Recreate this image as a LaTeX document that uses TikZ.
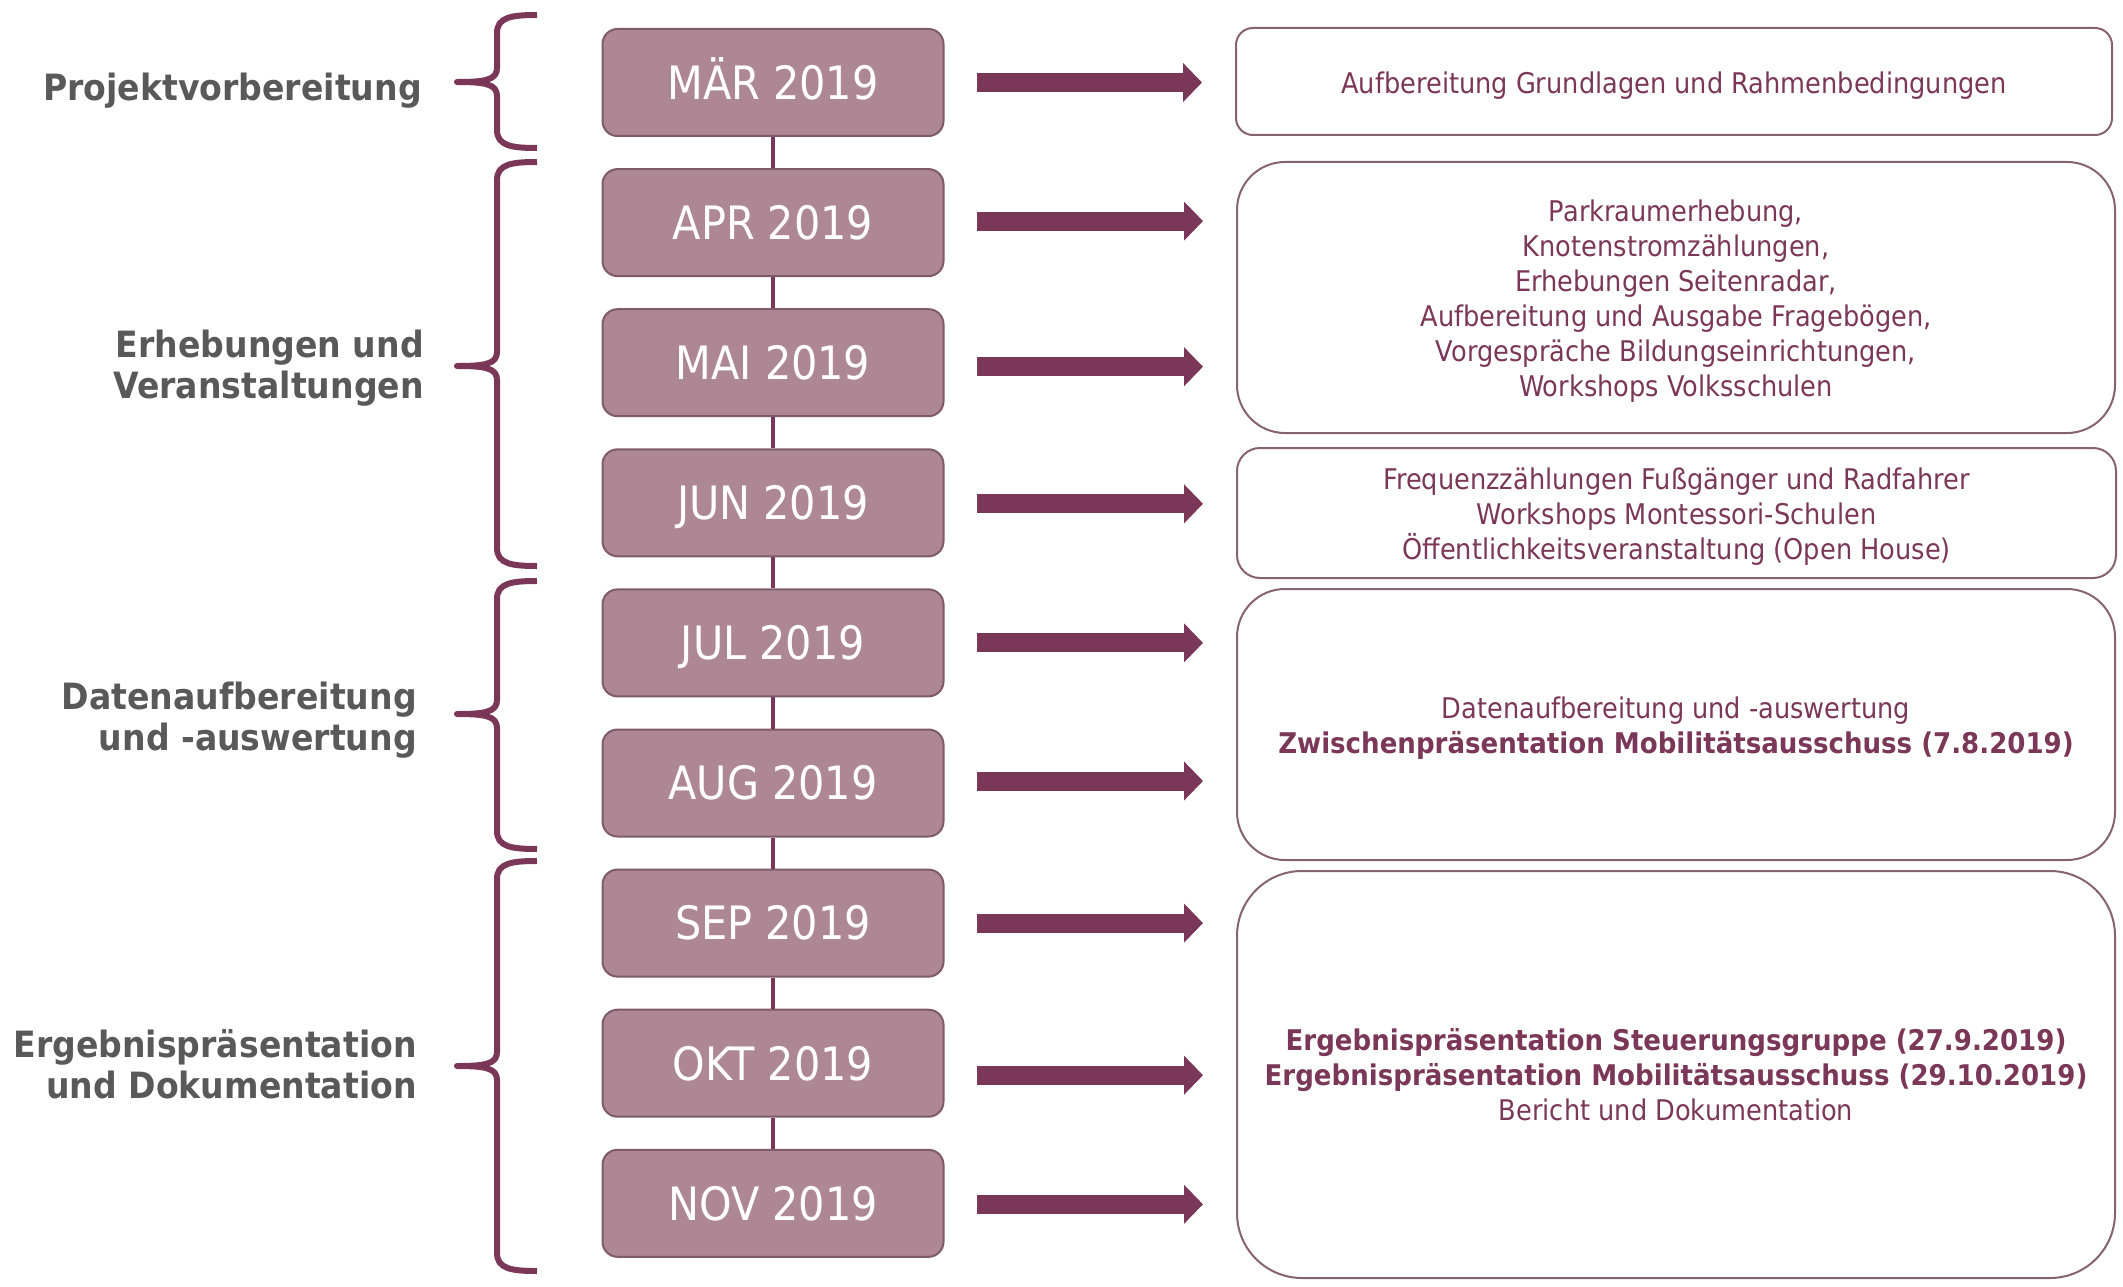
\documentclass[tikz,border=0pt]{standalone}
\usepackage{fontspec}
\setmainfont{DejaVu Sans}[FakeStretch=0.9, BoldFeatures={FakeStretch=0.915}]
\usetikzlibrary{arrows.meta,calc}
\definecolor{plum}{HTML}{7B3757}
\definecolor{boxfill}{HTML}{AE8795}
\definecolor{boxedge}{HTML}{7E5A6A}
\definecolor{infoedge}{HTML}{86636F}
\definecolor{labelgray}{HTML}{595959}
\tikzset{
  datebox/.style={draw=boxedge, line width=2pt, fill=boxfill, rounded corners=15pt,
    minimum width=341pt, minimum height=107pt, inner sep=0pt, text=white,
    text height=33.6pt, text depth=0pt,
    font=\fontsize{46}{55}\selectfont},
  infobox/.style={draw=infoedge, line width=2pt, inner sep=0pt},
  infotext/.style={align=center, text=plum, inner sep=0pt,
    font=\fontsize{28.5}{35}\selectfont},
  phaselabel/.style={anchor=east, align=right, text=labelgray, inner sep=0pt,
    font=\bfseries\fontsize{36.2}{41}\selectfont},
  conn/.style={draw=plum, line width=4pt},
  blockarrow/.style={draw=plum, line width=19pt, -{Triangle[length=19pt,width=38pt]}},
  bracestyle/.style={draw=plum, line width=6pt, line join=round}
}
\newcommand\phasebrace[3]{%
  \draw[bracestyle] (537,#1) .. controls (512,#1) and (497,#1+2) .. (497,#1+18)
    -- (497,#2-14) .. controls (497,#2-2) and (485,#2) .. (457,#2)
    .. controls (485,#2) and (497,#2+2) .. (497,#2+14)
    -- (497,#3-18) .. controls (497,#3-2) and (512,#3) .. (537,#3);}
\begin{document}
\begin{tikzpicture}[x=1pt,y=-1pt]
\useasboundingbox (0,0) rectangle (2123,1287);

% date boxes
\node[datebox] (m1) at (773,82.5) {MÄR 2019};
\node[datebox] (m2) at (773,222.6) {APR 2019};
\node[datebox] (m3) at (773,362.7) {MAI 2019};
\node[datebox] (m4) at (773,502.8) {JUN 2019};
\node[datebox] (m5) at (773,642.9) {JUL 2019};
\node[datebox] (m6) at (773,783) {AUG 2019};
\node[datebox] (m7) at (773,923.1) {SEP 2019};
\node[datebox] (m8) at (773,1063.2) {OKT 2019};
\node[datebox] (m9) at (773,1203.3) {NOV 2019};

\foreach \a/\b in {m1/m2,m2/m3,m3/m4,m4/m5,m5/m6,m6/m7,m7/m8,m8/m9}
  \draw[conn] (\a.south) -- (\b.north);

% info boxes
\node[infobox, rounded corners=17pt, minimum width=876pt, minimum height=107pt] (r1) at (1674,81.5) {};
\node[infobox, rounded corners=48pt, minimum width=878pt, minimum height=271pt] (r2) at (1676,297.5) {};
\node[infobox, rounded corners=23pt, minimum width=879pt, minimum height=130pt] (r3) at (1676.5,513) {};
\node[infobox, rounded corners=48pt, minimum width=878pt, minimum height=271pt] (r4) at (1676,724.5) {};
\node[infobox, rounded corners=65pt, minimum width=878pt, minimum height=407pt] (r5) at (1676,1074.5) {};

\node[infotext] (t1) at ($(r1.center)+(0,4)$)
  {Aufbereitung Grundlagen und Rahmenbedingungen};
\node[infotext] (t2) at ($(r2.center)+(0,4)$)
  {Parkraumerhebung,\\Knotenstromzählungen,\\Erhebungen Seitenradar,\\Aufbereitung und Ausgabe Fragebögen,\\Vorgespräche Bildungseinrichtungen,\\Workshops Volksschulen};
\node[infotext] (t3) at ($(r3.center)+(0,4)$)
  {Frequenzzählungen Fußgänger und Radfahrer\\Workshops Montessori-Schulen\\Öffentlichkeitsveranstaltung (Open House)};
\node[infotext] (t4) at ($(r4.center)+(0,4)$)
  {Datenaufbereitung und -auswertung\\\textbf{Zwischenpräsentation Mobilitätsausschuss (7.8.2019)}};
\node[infotext] (t5) at (r5.center)
  {\textbf{Ergebnispräsentation Steuerungsgruppe (27.9.2019)}\\\textbf{Ergebnispräsentation Mobilitätsausschuss (29.10.2019)}\\Bericht und Dokumentation};

% arrows
\draw[blockarrow] ($(m1.east)+(32,0)$) -- ($(m1.east -| r1.west)+(-33,0)$);
\draw[blockarrow] ($(m2.east)+(32,-1.5)$) -- ($(m2.east -| r2.west)+(-33,-1.5)$);
\draw[blockarrow] ($(m3.east)+(32,4)$) -- ($(m3.east -| r2.west)+(-33,4)$);
\draw[blockarrow] ($(m4.east)+(32,1)$) -- ($(m4.east -| r3.west)+(-33,1)$);
\draw[blockarrow] ($(m5.east)+(32,0)$) -- ($(m5.east -| r4.west)+(-33,0)$);
\draw[blockarrow] ($(m6.east)+(32,-2)$) -- ($(m6.east -| r4.west)+(-33,-2)$);
\draw[blockarrow] ($(m7.east)+(32,0)$) -- ($(m7.east -| r5.west)+(-33,0)$);
\draw[blockarrow] ($(m8.east)+(32,12)$) -- ($(m8.east -| r5.west)+(-33,12)$);
\draw[blockarrow] ($(m9.east)+(32,1)$) -- ($(m9.east -| r5.west)+(-33,1)$);

% braces
\phasebrace{15}{82}{148}
\phasebrace{162}{366}{566}
\phasebrace{581}{714}{849}
\phasebrace{861}{1066}{1271}

% phase labels
\node[phaselabel] (p1) at (422,91) {Projektvorbereitung};
\node[phaselabel] (p2) at (424,368) {Erhebungen und\\Veranstaltungen};
\node[phaselabel] (p3) at (417,720) {Datenaufbereitung\\und -auswertung};
\node[phaselabel] (p4) at (417,1064) {Ergebnispräsentation\\und Dokumentation};
\end{tikzpicture}
\end{document}
